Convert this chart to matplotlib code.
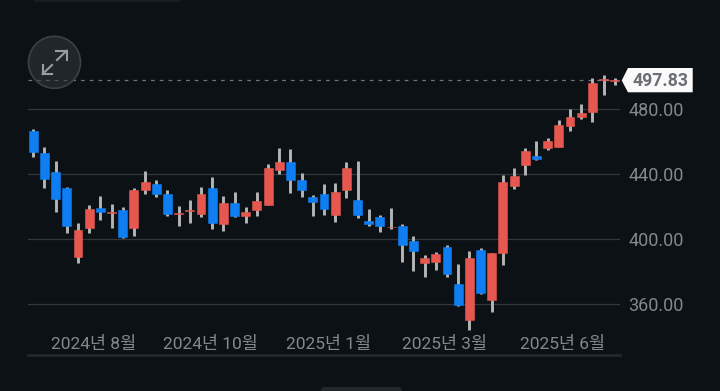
import matplotlib
matplotlib.use("Agg")
import matplotlib.pyplot as plt
from matplotlib.patches import Circle, FancyBboxPatch, Polygon

plt.rcParams["font.family"] = ["Roboto", "Noto Sans CJK KR", "DejaVu Sans"]

# weekly candles
opens = [466.5, 453.2, 441.5, 431.5, 388.9, 406.9, 419.0, 416.3, 417.8, 406.9,
         430.2, 434.1, 428.0, 415.5, 417.5, 415.7, 431.5, 409.3, 422.2, 414.3,
         417.9, 421.2, 442.3, 447.3, 436.4, 426.1, 427.8, 414.9, 430.0, 423.9,
         411.4, 413.5, 407.3, 408.1, 398.7, 385.4, 386.3, 395.3, 372.3, 350.5,
         393.2, 362.6, 391.7, 432.9, 445.4, 451.1, 456.0, 456.8, 469.6, 474.9,
         478.0, 497.6, 497.5]
closes = [453.4, 436.8, 424.9, 408.1, 405.7, 418.4, 416.5, 416.7, 401.2, 430.4,
          435.1, 427.8, 415.7, 415.9, 417.9, 428.0, 410.0, 422.4, 414.4, 416.7,
          423.5, 443.6, 447.3, 436.4, 430.2, 423.0, 418.6, 428.8, 443.9, 414.7,
          409.3, 408.1, 407.7, 396.6, 392.9, 388.5, 390.9, 378.5, 359.4, 388.3,
          367.1, 391.5, 435.0, 438.6, 454.4, 449.5, 460.2, 470.2, 474.9, 477.4,
          496.0, 498.7, 497.83]
highs = [467.5, 456.8, 448.2, 431.9, 409.8, 421.0, 426.5, 421.8, 419.6, 431.5,
         441.7, 436.4, 430.2, 420.2, 423.9, 432.3, 438.0, 426.5, 429.0, 419.6,
         428.8, 446.0, 456.0, 455.2, 440.9, 427.2, 434.1, 434.3, 447.3, 448.2,
         418.4, 415.1, 419.0, 409.2, 402.0, 390.1, 392.4, 396.3, 384.8, 392.9,
         394.4, 391.7, 439.4, 443.6, 455.9, 460.2, 462.2, 473.1, 480.2, 483.3,
         499.0, 500.7, 499.2]
lows = [450.3, 431.6, 416.9, 404.0, 385.4, 404.0, 411.8, 406.9, 400.8, 402.0,
        428.0, 425.9, 414.1, 407.9, 410.1, 413.6, 406.1, 405.2, 413.5, 410.0,
        414.4, 421.0, 440.1, 428.4, 426.1, 414.4, 414.9, 410.6, 425.3, 413.0,
        407.9, 404.2, 406.3, 386.2, 380.7, 376.6, 380.9, 376.7, 359.1, 344.4,
        366.3, 355.5, 384.2, 431.0, 439.4, 448.7, 455.0, 456.5, 466.7, 473.9,
        472.2, 488.6, 495.0]

y_ticks = [360, 400, 440, 480]
last_price = 497.83
x_positions = [5.38, 15.8, 26.36, 36.8, 47.3]
x_labels = ["2024년 8월", "2024년 10월", "2025년 1월", "2025년 3월", "2025년 6월"]

BG = "#0c1116"
RED = "#e5574f"
BLUE = "#0f7ef2"
WICK = "#b4b4b4"
GRID = "#33383d"
LABEL = "#85888c"

fig = plt.figure(figsize=(7.2, 3.91), dpi=100, facecolor=BG)
ax = fig.add_axes([28 / 720, (391 - 355) / 391, 592 / 720, 295 / 391], facecolor="none")
ax.set_xlim(-0.474, 52.47)
ax.set_ylim(328.9, 510.1)

for s in ["top", "left", "right"]:
    ax.spines[s].set_visible(False)
ax.spines["bottom"].set_color("#23282d")
ax.spines["bottom"].set_linewidth(2)

ax.set_axisbelow(True)
ax.yaxis.grid(True, color=GRID, lw=0.9)
ax.yaxis.tick_right()
ax.set_yticks(y_ticks)
ax.set_yticklabels([f"{v:.2f}" for v in y_ticks], va="center_baseline")
ax.tick_params(axis="y", length=0, pad=6, labelsize=13, labelcolor=LABEL)
ax.set_xticks(x_positions)
ax.set_xticklabels(x_labels)
ax.tick_params(axis="x", length=0, pad=-13.8, labelsize=12.5, labelcolor=LABEL)

ax.axhline(last_price, color="#70757a", lw=0.9, dashes=(3, 4))

for i in range(len(opens)):
    color = RED if closes[i] >= opens[i] else BLUE
    ax.vlines(i, lows[i], highs[i], color=WICK, lw=2.1, zorder=2)
    bottom = min(opens[i], closes[i])
    height = abs(closes[i] - opens[i])
    ax.bar(i, height, bottom=bottom, width=0.8, color=color, edgecolor=color, lw=0.4, zorder=3)

# overlay in pixel coordinates for the badge and the app controls
top = fig.add_axes([0, 0, 1, 1], facecolor="none")
top.set_xlim(0, 720)
top.set_ylim(391, 0)
top.axis("off")

top.add_patch(Polygon([(621.7, 80.5), (628, 68), (692.7, 68), (692.7, 92.3), (628, 92.3)],
                      closed=True, color="#fafafa", lw=0))
top.text(660.5, 80.6, f"{last_price:.2f}", color="#6b6e72", fontsize=12.8, fontweight="bold",
         ha="center", va="center")

top.add_patch(Circle((54.5, 62.3), 26, facecolor=(0.2, 0.22, 0.24, 0.55), edgecolor="#3c4146", lw=1.2))
top.plot([56, 66.7, 66.7], [50.7, 50.7, 60], color="#9c9c9c", lw=1.5, solid_joinstyle="miter")
top.plot([57, 66.7], [60, 50.7], color="#9c9c9c", lw=1.5)
top.plot([42.6, 42.6, 51.7], [65, 74, 74], color="#9c9c9c", lw=1.5, solid_joinstyle="miter")
top.plot([42.6, 52], [74, 65], color="#9c9c9c", lw=1.5)

top.plot([35, 180], [1, 1], color="#1a1f24", lw=1.2)
top.add_patch(FancyBboxPatch((325, 391), 73, 6, boxstyle="round,pad=4", facecolor="#22272c", edgecolor="none"))

fig.savefig("out.png", dpi=100, facecolor=BG)
